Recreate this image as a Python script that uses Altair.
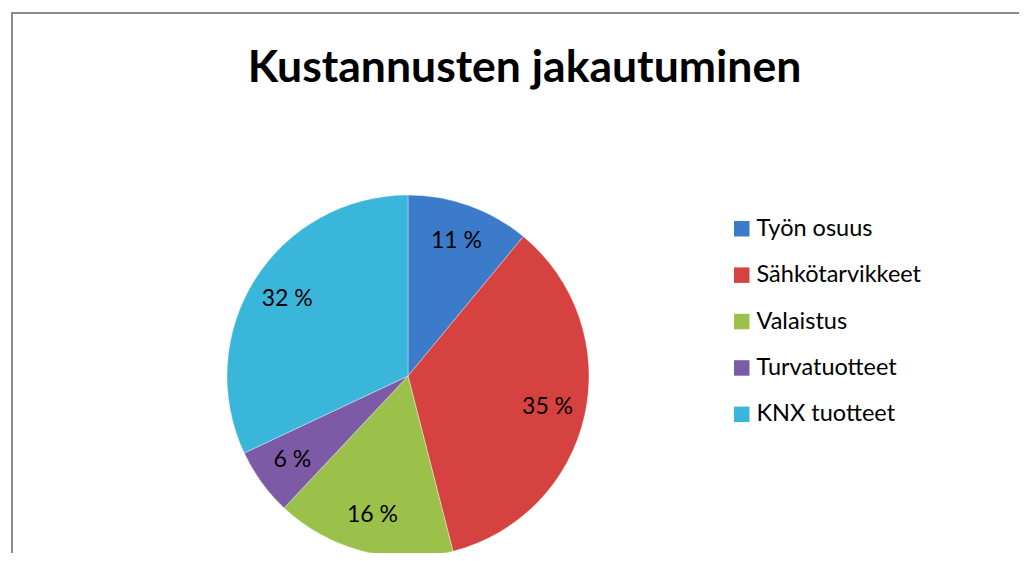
import altair as alt
import pandas as pd

categories = ["Työn osuus", "Sähkötarvikkeet", "Valaistus", "Turvatuotteet", "KNX tuotteet"]
values = [11, 35, 16, 6, 32]
labels = ["11 %", "35 %", "16 %", "6 %", "32 %"]
colors = ["#3B7BC9", "#D6423F", "#9CC14A", "#7C5AA6", "#3BB6DB"]

df = pd.DataFrame({"cat": categories, "val": values, "lab": labels, "order": list(range(len(categories)))})

FONT = "Lato"
CX, CY, R = 400, 368, 181

color_scale = alt.Scale(domain=categories, range=colors)

base = alt.Chart(df).encode(
    theta=alt.Theta("val:Q", stack=True),
    order=alt.Order("order:Q"),
)

pie = base.mark_arc(radius=R, stroke="#ffffff", strokeWidth=0.6, strokeOpacity=0.6).encode(
    color=alt.Color(
        "cat:N",
        scale=color_scale,
        sort=categories,
        legend=alt.Legend(
            title=None,
            orient="none",
            legendX=722,
            legendY=209,
            symbolType="square",
            symbolSize=240,
            symbolStrokeWidth=0,
            labelFont=FONT,
            labelFontSize=23.5,
            labelColor="#000000",
            labelOffset=3,
            labelLimit=400,
            rowPadding=21.4,
            padding=0,
        ),
    ),
    x=alt.value(CX),
    y=alt.value(CY),
)

text = base.mark_text(radius=143, font=FONT, fontSize=23, color="#000000").encode(
    text="lab:N",
    x=alt.value(CX),
    y=alt.value(CY),
)

frame_left = alt.Chart(df).mark_rule(color="#8c8c8c", strokeWidth=2).encode(
    x=alt.value(4), y=alt.value(4), y2=alt.value(560)
)
frame_top = alt.Chart(df).mark_rule(color="#8c8c8c", strokeWidth=2).encode(
    x=alt.value(3), x2=alt.value(1019), y=alt.value(5)
)

chart = alt.layer(frame_left, frame_top, pie, text).properties(
    width=1011,
    height=545,
    padding=0,
    autosize=alt.AutoSizeParams(type="none"),
    title=alt.TitleParams(
        "Kustannusten jakautuminen",
        font=FONT,
        fontSize=44.5,
        fontWeight="bold",
        color="#000000",
        anchor="middle",
        dx=11,
        offset=-83,
    ),
).configure_view(stroke=None)

chart.save("out.html", embed_options={"renderer": "svg", "actions": False})
